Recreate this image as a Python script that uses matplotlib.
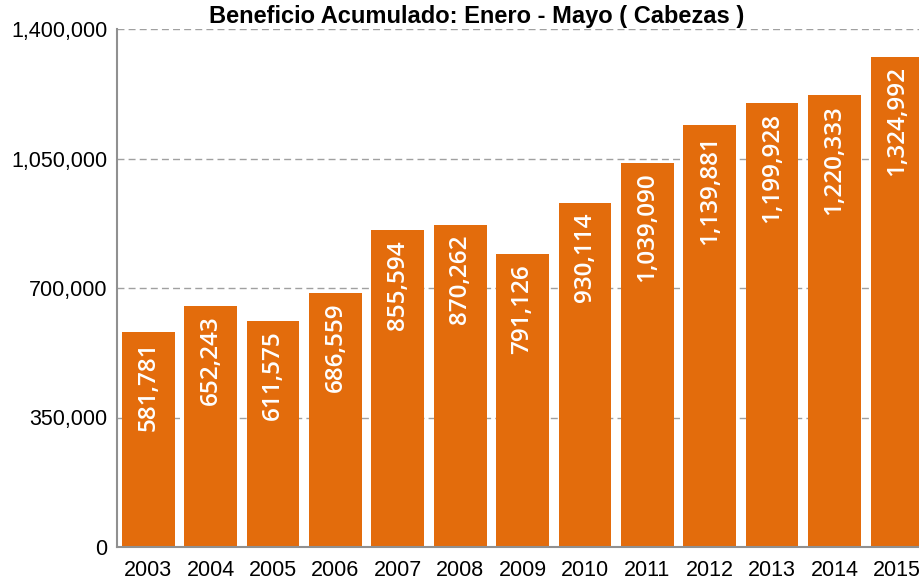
import numpy as np
import matplotlib.pyplot as plt
from matplotlib.ticker import FuncFormatter

years = ['2003', '2004', '2005', '2006', '2007', '2008', '2009',
         '2010', '2011', '2012', '2013', '2014', '2015']
values = [581781, 652243, 611575, 686559, 855594, 870262, 791126,
          930114, 1039090, 1139881, 1199928, 1220333, 1324992]

plt.rcParams['font.family'] = ['Liberation Sans', 'DejaVu Sans']

fig = plt.figure(figsize=(9.2, 5.79), dpi=100)
ax = fig.add_axes([117 / 920, 1 - 547 / 579, (920 - 117) / 920, (547 - 29) / 579])

x = np.arange(len(years))
bars = ax.bar(x, values, width=0.845, color='#E36C0C', zorder=2)

# value labels inside bars
for xi, v in zip(x, values):
    ax.text(xi, v - 26000, '{:,}'.format(v), rotation=90, ha='center', va='top',
            color='white', fontsize=17.5, fontweight='semibold', family='Open Sans', zorder=3)

ax.set_xlim(-0.5, 12.37)
ax.set_ylim(0, 1400000)
ax.set_yticks([0, 350000, 700000, 1050000, 1400000])
ax.yaxis.set_major_formatter(FuncFormatter(lambda v, p: '{:,}'.format(int(v))))
ax.set_xticks(x)
ax.set_xticklabels(years)
ax.tick_params(axis='both', length=0, labelsize=15.5, colors='black')
ax.tick_params(axis='x', pad=9)
ax.tick_params(axis='y', pad=7)

ax.grid(axis='y', color='#a0a0a0', linestyle=(0, (5, 3)), linewidth=1, zorder=0)
for s in ['top', 'right']:
    ax.spines[s].set_visible(False)
for s in ['left', 'bottom']:
    ax.spines[s].set_color('#909090')
    ax.spines[s].set_linewidth(1.5)

fig.text(477 / 920, 1 - 17 / 579, 'Beneficio Acumulado: Enero - Mayo ( Cabezas )',
         ha='center', va='center', fontsize=17, fontweight='bold')

fig.savefig('out.png', dpi=100)
